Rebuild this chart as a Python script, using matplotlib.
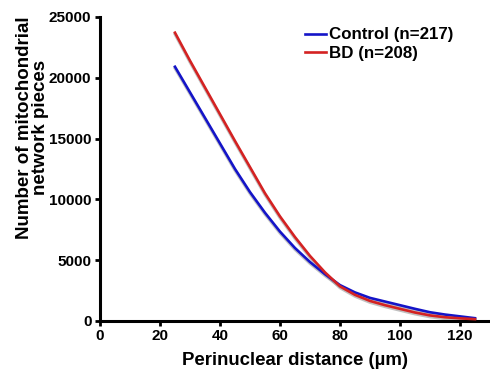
import matplotlib
matplotlib.use("Agg")
import matplotlib.pyplot as plt

distance = [25, 30, 35, 40, 45, 50, 55, 60, 65, 70, 75, 80, 85, 90, 95, 100, 105, 110, 115, 120, 125]
control = [20900, 18800, 16700, 14600, 12500, 10600, 8900, 7350, 6000, 4850, 3850, 2950, 2350, 1900, 1600, 1300, 1000, 720, 530, 380, 230]
bd = [23700, 21400, 19200, 17000, 14800, 12650, 10500, 8600, 6900, 5350, 4000, 2850, 2150, 1650, 1300, 1000, 700, 460, 310, 220, 150]

xticks = [0, 20, 40, 60, 80, 100, 120]
yticks = [0, 5000, 10000, 15000, 20000, 25000]

plt.rcParams['font.family'] = ['Liberation Sans', 'DejaVu Sans']
plt.rcParams['font.weight'] = 'bold'

fig = plt.figure(figsize=(4.9, 3.75), dpi=100)
ax = fig.add_axes([0.204, 0.144, 0.796, 0.811])

for y, c, lab in [(control, '#1414c8', 'Control (n=217)'), (bd, '#d42222', 'BD (n=208)')]:
    ax.plot(distance, [v - 120 for v in y], color='#999999', lw=2.2, alpha=0.6, zorder=2)
    ax.plot(distance, y, color=c, lw=1.9, label=lab, zorder=3)

ax.set_xlim(0, 130)
ax.set_ylim(0, 25000)
ax.set_xticks(xticks)
ax.set_yticks(yticks)
ax.spines['top'].set_visible(False)
ax.spines['right'].set_visible(False)
for s in ['left', 'bottom']:
    ax.spines[s].set_linewidth(2.2)
ax.tick_params(width=2, length=3.6, pad=2.5, labelsize=11, direction='out')
for lbl in ax.get_xticklabels() + ax.get_yticklabels():
    lbl.set_fontweight('bold')

ax.set_xlabel('Perinuclear distance (µm)', fontsize=13.4, fontweight='bold', labelpad=6)
ax.set_ylabel('Number of mitochondrial\nnetwork pieces', fontsize=13.5, fontweight='bold', linespacing=0.95)
ax.yaxis.set_label_coords(-0.13, 0.635)

leg = ax.legend(loc='upper left', bbox_to_anchor=(297 / 490, 1 - 19 / 375),
                bbox_transform=fig.transFigure, frameon=False, borderpad=0,
                prop={'weight': 'bold', 'size': 12.2}, handlelength=1.2,
                handletextpad=0.2, labelspacing=0.2)

fig.savefig('out.png', dpi=100)
